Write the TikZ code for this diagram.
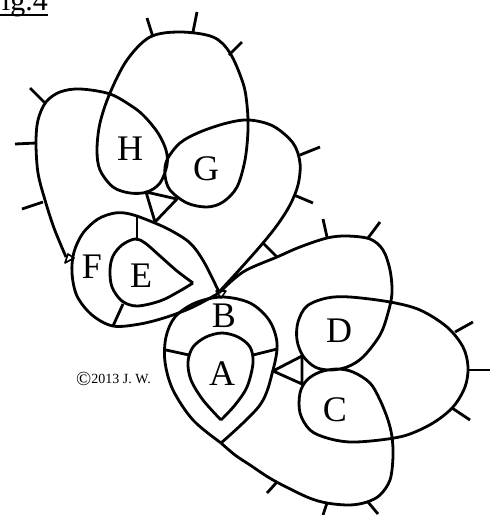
\documentclass[tikz,border=0pt]{standalone}
\usepackage{fontspec}
\setmainfont{Liberation Serif}
\begin{document}
\begin{tikzpicture}[x=1pt,y=-1pt,line join=round,
  curve/.style={line width=2.8pt},
  tick/.style={line width=2.8pt},
  marker/.style={line width=1.6pt},
  lbl/.style={font=\fontsize{36}{40}\selectfont, inner sep=0pt, anchor=base}]
\useasboundingbox (0,0) rectangle (497,515);

% title
\node[anchor=base east, inner sep=0pt, font=\fontsize{30}{32}\selectfont] (title) at (48,10) {Fig.4};
\draw[line width=1.5pt] ([yshift=-5pt]title.base west) -- ([yshift=-5pt]title.base east);

% chain from B through G, top ring, H and left chain to F
\draw[curve] plot[smooth, tension=0.55] coordinates {
 (219,292) (241,268) (263,243) (278,224) (290,205) (298,185) (300,163) (293,143)
 (273,126) (249,120) (227,123) (200,132) (180,143) (167,160) (165,175) (170,190)
 (187,203) (207,207) (223,202) (237,187) (245,160) (248,130) (247,105) (243,83)
 (230,53) (213,37) (180,32) (150,37) (127,60) (110,93) (100,123) (97,150)
 (100,170) (113,187) (130,193) (147,192) (160,183) (167,165) (166,150) (158,133)
 (145,117) (133,107) (110,94) (80,89) (60,92) (46,102) (38,120) (36,143)
 (38,173) (45,200) (54,228) (66,257)};

% F outer ring
\draw[curve] plot[smooth, tension=0.55] coordinates {
 (219,292) (204,262) (190,243) (170,230) (150,221) (130,214) (115,213) (98,219)
 (83,233) (74,252) (72,273) (77,296) (92,315) (113,326) (140,324) (167,317)
 (193,307) (219,293)};

% E ring
\draw[curve] plot[smooth, tension=0.55] coordinates {
 (193,283) (177,271) (160,256) (145,243) (135,239) (122,245) (113,256) (110,270)
 (112,287) (122,301) (137,306) (160,301) (178,292) (193,283)};

% B ring
\draw[curve] plot[smooth, tension=0.55] coordinates {
 (221,443) (193,420) (173,390) (165,362) (166,337) (175,317) (195,303) (222,297)
 (250,303) (269,320) (277,343) (273,370) (260,405) (221,443)};

% A ring
\draw[curve] plot[smooth, tension=0.55] coordinates {
 (221,420) (203,400) (191,380) (188,362) (193,347) (206,337) (222,333) (238,337)
 (250,347) (253,363) (247,387) (235,405) (221,420)};

% chain B -> D, ring C/D, chain back to B
\draw[curve] plot[smooth, tension=0.55] coordinates {
 (219,293) (243,272) (277,257) (300,247) (327,238) (347,236) (370,239) (383,250)
 (390,270) (392,293) (388,313) (380,335) (363,357) (347,367) (330,370) (315,367)
 (303,356) (297,340) (298,322) (307,306) (327,298) (350,297) (390,302) (420,310)
 (447,327) (463,347) (468,367) (465,387) (453,407) (433,423) (407,435) (380,440)
 (350,442) (327,438) (310,430) (300,413) (300,393) (307,380) (320,372) (337,369)
 (353,372) (370,383) (380,400) (388,420) (392,437) (393,457) (390,480) (380,495)
 (367,502) (350,505) (327,503) (307,497) (273,480) (250,465) (235,455) (221,443)};

% connecting bars
\draw[tick] (137,215) -- (137,239);
\draw[tick] (113,326) -- (123,304);
\draw[tick] (166,350) -- (189,355);
\draw[tick] (253,355) -- (277,349);
\draw[tick] (263,243) -- (277,257);

% triangles
\draw[tick] (146,192) -- (177,199) -- (155,222) -- cycle;
\draw[tick] (273,371) -- (302,356) -- (302,384) -- cycle;

% small markers
\draw[marker] (65,263) -- (74,258) -- (68,254) -- cycle;
\draw[marker] (216,291) -- (226,291) -- (221,298) -- cycle;

% picots
\draw[tick] (147,18) -- (153,37);
\draw[tick] (197,12) -- (193,32);
\draw[tick] (242,42) -- (229,55);
\draw[tick] (30,88) -- (45,103);
\draw[tick] (15,144) -- (36,143);
\draw[tick] (22,209) -- (43,202);
\draw[tick] (300,155) -- (320,147);
\draw[tick] (294,195) -- (313,203);
\draw[tick] (327,237) -- (323,219);
\draw[tick] (368,238) -- (380,222);
\draw[tick] (455,332) -- (473,322);
\draw[tick] (468,370) -- (490,370);
\draw[tick] (452,408) -- (470,420);
\draw[tick] (267,493) -- (277,482);
\draw[tick] (327,503) -- (323,515);
\draw[tick] (368,502) -- (378,514);

% labels
\node[lbl] (labH) at (130,160) {H};
\node[lbl] (labG) at (206,180) {G};
\node[lbl] (labF) at (92,278) {F};
\node[lbl] (labE) at (141,287) {E};
\node[lbl] (labB) at (224,327) {B};
\node[lbl] (labA) at (222,385) {A};
\node[lbl] (labD) at (339,342) {D};
\node[lbl] (labC) at (335,421) {C};

\node[anchor=base west, inner sep=0pt] (copy) at (76,383)
 {\raisebox{-2.5pt}{\fontsize{20}{20}\selectfont ©}\fontsize{14}{16}\selectfont 2013 J. W.};
\end{tikzpicture}
\end{document}
